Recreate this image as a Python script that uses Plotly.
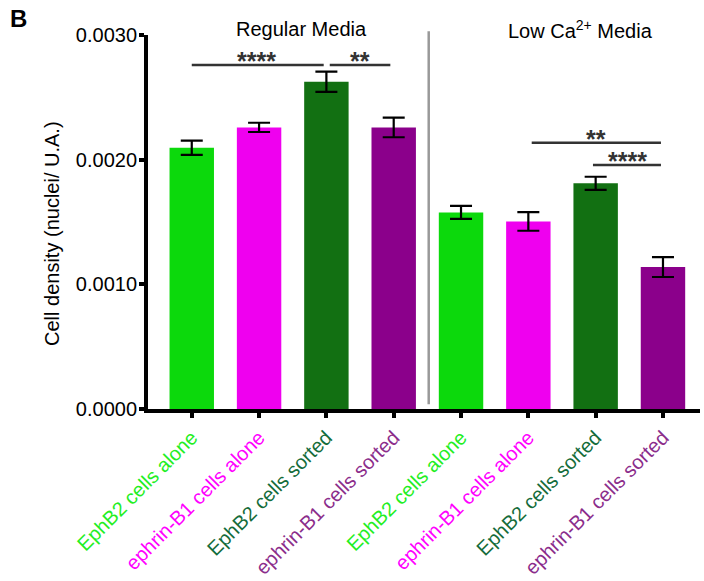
import plotly.graph_objects as go

# Cell density per condition (nuclei / U.A.), mean and error
labels = [
    "EphB2 cells alone", "ephrin-B1 cells alone", "EphB2 cells sorted", "ephrin-B1 cells sorted",
    "EphB2 cells alone", "ephrin-B1 cells alone", "EphB2 cells sorted", "ephrin-B1 cells sorted",
]
density = [0.002095, 0.002259, 0.002625, 0.002259, 0.001577, 0.001505, 0.001810, 0.001139]
density_err = [0.000057, 0.000037, 0.000082, 0.000079, 0.000052, 0.000075, 0.000053, 0.000080]

bar_colors = ["#0cd90c", "#ef00ef", "#127012", "#8b008b",
              "#0cd90c", "#ef00ef", "#127012", "#8b008b"]
label_colors = ["#22ee22", "#ff00ff", "#146c3a", "#8b2d8b",
                "#22ee22", "#ff00ff", "#146c3a", "#8b2d8b"]

# Significance brackets: (start, end, line y, star text, text x, text y)
brackets = [
    (0.0, 1.96, 0.002759, "****", 0.96, 0.002790),
    (2.05, 2.95, 0.002759, "**", 2.50, 0.002790),
    (5.05, 6.97, 0.002136, "**", 6.00, 0.002167),
    (5.96, 6.97, 0.001957, "****", 6.48, 0.001988),
]

xs = list(range(len(labels)))
font_family = "Liberation Sans, Arial, sans-serif"

fig = go.Figure()
fig.add_trace(go.Bar(
    x=xs, y=density, width=0.66,
    marker=dict(color=bar_colors, line=dict(width=0)),
    error_y=dict(type="data", array=density_err, visible=True,
                 color="black", thickness=2.2, width=11),
    showlegend=False,
))

ticktext = [f"<span style='color:{c}'>{t}</span>" for t, c in zip(labels, label_colors)]

fig.update_layout(
    width=704, height=581,
    margin=dict(l=148, r=4, t=35, b=172),
    paper_bgcolor="white", plot_bgcolor="white",
    font=dict(family=font_family, size=20, color="black"),
    xaxis=dict(
        range=[-0.65, 7.55], tickmode="array", tickvals=xs, ticktext=ticktext,
        tickangle=-45, showline=True, linecolor="black", linewidth=4,
        ticks="outside", ticklen=5, tickwidth=4, tickcolor="black",
        showgrid=False, zeroline=False, tickfont=dict(size=20), automargin=False,
    ),
    yaxis=dict(
        range=[0, 0.003], tickvals=[0, 0.001, 0.002, 0.003],
        ticktext=["0.0000", "0.0010", "0.0020", "0.0030"],
        showline=True, linecolor="black", linewidth=4,
        ticks="outside", ticklen=5, tickwidth=4, tickcolor="black",
        showgrid=False, zeroline=False, tickfont=dict(size=20), automargin=False,
        ticklabelstandoff=-2,
    ),
)

for x0, x1, yl, stars, tx, ty in brackets:
    fig.add_shape(type="line", xref="x", yref="y", x0=x0, x1=x1, y0=yl, y1=yl,
                  line=dict(color="#333333", width=2.5))
    fig.add_annotation(x=tx, y=ty, xref="x", yref="y", text=stars, showarrow=False,
                       yanchor="middle", font=dict(size=25, color="#333333",
                                                   family=font_family, weight="bold"))

# Divider between the two media conditions
fig.add_shape(type="line", xref="x", yref="paper", x0=3.52, x1=3.52, y0=0.013, y1=1.01,
              line=dict(color="#999999", width=2.5))

fig.add_annotation(x=1.63, y=1.016, xref="x", yref="paper", text="Regular Media",
                   showarrow=False, yanchor="middle", font=dict(size=20))
fig.add_annotation(x=5.78, y=1.016, xref="x", yref="paper",
                   text="Low Ca<sup>2+</sup> Media",
                   showarrow=False, yanchor="middle", font=dict(size=20))

fig.add_annotation(x=-0.174, y=0.4706, xref="paper", yref="paper",
                   text="Cell density (nuclei/ U.A.)", textangle=-90,
                   showarrow=False, xanchor="center", yanchor="middle", font=dict(size=20))

fig.add_annotation(x=-0.2355, y=1.044, xref="paper", yref="paper", text="<b>B</b>",
                   showarrow=False, xanchor="center", yanchor="middle", font=dict(size=24))

fig.write_html("out.html")
